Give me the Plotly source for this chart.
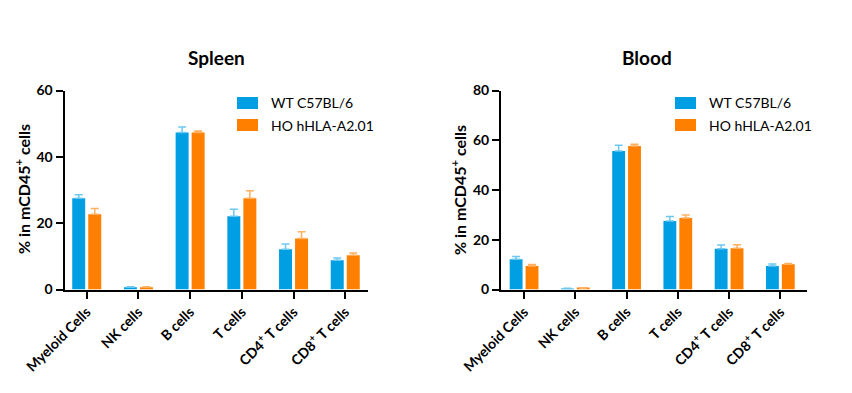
import plotly.graph_objects as go
from plotly.subplots import make_subplots

categories = ["Myeloid Cells", "NK cells", "B cells", "T cells",
              "CD4<sup>+</sup> T cells", "CD8<sup>+</sup> T cells"]
series_names = ["WT C57BL/6", "HO hHLA-A2.01"]

spleen_wt = [27.5, 0.7, 47.3, 22.1, 12.1, 8.8]
spleen_wt_err = [1.1, 0.1, 1.7, 2.1, 1.6, 0.7]
spleen_ho = [22.7, 0.7, 47.3, 27.5, 15.4, 10.3]
spleen_ho_err = [1.7, 0.1, 0.5, 2.3, 2.0, 0.7]

blood_wt = [12.2, 0.4, 55.7, 27.5, 16.4, 9.4]
blood_wt_err = [1.1, 0.1, 2.3, 1.8, 1.5, 0.9]
blood_ho = [9.4, 0.5, 57.7, 28.7, 16.6, 10.2]
blood_ho_err = [0.7, 0.2, 0.7, 1.2, 1.4, 0.3]

spleen_ticks = [0, 20, 40, 60]
blood_ticks = [0, 20, 40, 60, 80]

y_title = "% in mCD45<sup>+</sup> cells"

BLUE = "#009FE3"
ORANGE = "#FF8000"
BLUE_ERR = "#6CC8F0"
ORANGE_ERR = "#FFB060"
FONT = "Lato"

fig = make_subplots(rows=1, cols=2)

x = list(range(len(categories)))

def add_bars(col, wt, wt_err, ho, ho_err):
    fig.add_trace(go.Bar(x=x, y=wt, name=series_names[0], marker_color=BLUE,
                         marker_line_width=0, showlegend=False,
                         error_y=dict(type="data", array=wt_err, symmetric=False,
                                      arrayminus=[0]*len(wt), color=BLUE_ERR,
                                      thickness=1.5, width=4)),
                  row=1, col=col)
    fig.add_trace(go.Bar(x=x, y=ho, name=series_names[1], marker_color=ORANGE,
                         marker_line_width=0, showlegend=False,
                         error_y=dict(type="data", array=ho_err, symmetric=False,
                                      arrayminus=[0]*len(ho), color=ORANGE_ERR,
                                      thickness=1.5, width=4)),
                  row=1, col=col)

add_bars(1, spleen_wt, spleen_wt_err, spleen_ho, spleen_ho_err)
add_bars(2, blood_wt, blood_wt_err, blood_ho, blood_ho_err)

W, H = 852, 393
ydom = [1 - 289.5 / H, 1 - 90.5 / H]

xaxis_common = dict(
    tickmode="array", tickvals=x, ticktext=categories, tickangle=-45,
    showline=True, linecolor="black", linewidth=2,
    ticks="outside", ticklen=7, tickwidth=2, tickcolor="black",
    showgrid=False, zeroline=False, automargin=False,
    tickfont=dict(family=FONT, size=14, color="black", weight="bold"),
)
yaxis_common = dict(
    showline=True, linecolor="black", linewidth=2,
    ticks="outside", ticklen=7, tickwidth=2, tickcolor="black",
    showgrid=False, zeroline=False, automargin=False,
    tickfont=dict(family=FONT, size=14, color="black", weight="bold"),
)

fig.update_xaxes(domain=[64.5 / W, 368 / W], range=[-0.43, 5.44], **xaxis_common, row=1, col=1)
fig.update_xaxes(domain=[501 / W, 807 / W], range=[-0.45, 5.52], **xaxis_common, row=1, col=2)
fig.update_yaxes(domain=ydom, range=[0, 60], tickvals=spleen_ticks, **yaxis_common, row=1, col=1)
fig.update_yaxes(domain=ydom, range=[0, 80], tickvals=blood_ticks, **yaxis_common, row=1, col=2)

title_font = dict(family=FONT, size=19, color="black", weight="bold")
ytitle_font = dict(family=FONT, size=16, color="black", weight="bold")
annotations = [
    dict(text="Spleen", x=216 / W, y=1 - 57 / H, xref="paper", yref="paper",
         showarrow=False, xanchor="center", yanchor="middle", font=title_font),
    dict(text="Blood", x=647 / W, y=1 - 57 / H, xref="paper", yref="paper",
         showarrow=False, xanchor="center", yanchor="middle", font=title_font),
    dict(text=y_title, x=22 / W, y=1 - 189 / H, xref="paper", yref="paper",
         showarrow=False, xanchor="center", yanchor="middle", textangle=-90,
         font=ytitle_font),
    dict(text=y_title, x=458 / W, y=1 - 190 / H, xref="paper", yref="paper",
         showarrow=False, xanchor="center", yanchor="middle", textangle=-90,
         font=ytitle_font),
]
shapes = []
legend_pos = [(237, 269), (675, 707)]
row_y = [103, 125]
colors = [BLUE, ORANGE]
for bx, tx in legend_pos:
    for i in range(2):
        cy = row_y[i]
        shapes.append(dict(type="rect", xref="paper", yref="paper",
                           x0=bx / W, x1=(bx + 21) / W,
                           y0=1 - (cy + 6) / H, y1=1 - (cy - 6) / H,
                           fillcolor=colors[i], line=dict(width=0)))
        annotations.append(dict(text=series_names[i], x=tx / W, y=1 - cy / H,
                                xref="paper", yref="paper", showarrow=False,
                                xanchor="left", yanchor="middle",
                                font=dict(family=FONT, size=14, color="black")))

fig.update_layout(
    width=W, height=H, margin=dict(l=0, r=0, t=0, b=0),
    paper_bgcolor="white", plot_bgcolor="white",
    barmode="group", bargap=0.38, bargroupgap=0.19,
    annotations=annotations, shapes=shapes, showlegend=False,
)

fig.write_html("out.html", config={"displayModeBar": False},
               post_script="document.body.style.margin='0';document.body.style.overflow='hidden';")
